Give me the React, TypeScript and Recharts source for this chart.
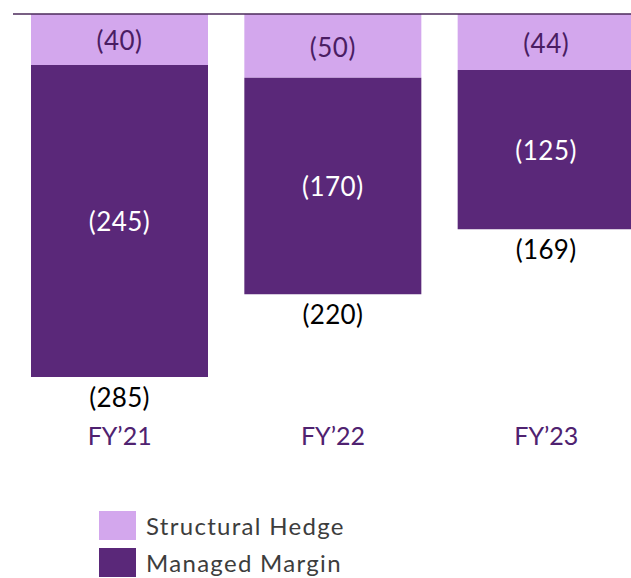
import React from 'react';
import { BarChart, Bar, XAxis, YAxis, ReferenceLine, LabelList, Legend } from 'recharts';

const categories = ["FY’21", "FY’22", "FY’23"];
const structuralHedge = [-40, -50, -44];
const managedMargin = [-245, -170, -125];
const totals = [-285, -220, -169];

const data = categories.map((c, i) => ({
  name: c,
  hedge: structuralHedge[i],
  managed: managedMargin[i],
  total: totals[i],
}));

const LIGHT = '#d3a7ed';
const DARK = '#5a2879';
const FONT = 'Lato, "Open Sans", sans-serif';

const fmt = (v: number) => `(${Math.abs(v)})`;

const norm = (p: any) => {
  const y = Number(p.y), h = Number(p.height);
  const top = Math.min(y, y + h);
  const bottom = Math.max(y, y + h);
  return { top, bottom, cx: Number(p.x) + Number(p.width) / 2 };
};

const HedgeLabel = (p: any) => {
  const { top, bottom, cx } = norm(p);
  return (
    <text x={cx} y={(top + bottom) / 2 + 1} textAnchor="middle" dominantBaseline="central"
      fill="#4a1d63" fontSize={26} letterSpacing={0.5} fontFamily={FONT}>{fmt(p.value)}</text>
  );
};

const ManagedLabel = (p: any) => {
  const { top, bottom, cx } = norm(p);
  return (
    <text x={cx} y={(top + bottom) / 2} textAnchor="middle" dominantBaseline="central"
      fill="#ffffff" fontSize={26} letterSpacing={0.5} fontFamily={FONT}>{fmt(p.value)}</text>
  );
};

const TotalLabel = (p: any) => {
  const { bottom, cx } = norm(p);
  return (
    <text x={cx} y={bottom + 20} textAnchor="middle" dominantBaseline="central"
      fill="#000000" fontSize={26} letterSpacing={0.3} fontFamily={FONT}>{fmt(p.value)}</text>
  );
};

const CatTick = (p: any) => (
  <text x={p.x} y={p.y + 58} textAnchor="middle" dominantBaseline="central"
    fill="#4f2270" fontSize={25} fontFamily={FONT}>{p.payload.value}</text>
);

const LegendContent = () => (
  <div style={{ fontFamily: FONT, fontSize: 24, letterSpacing: 1.3, color: '#3d3d3d' }}>
    {[{ label: 'Structural Hedge', color: LIGHT }, { label: 'Managed Margin', color: DARK }].map((it) => (
      <div key={it.label} style={{ display: 'flex', alignItems: 'center', height: 37 }}>
        <div style={{ width: 37, height: 29, background: it.color, marginRight: 10 }} />
        <span>{it.label}</span>
      </div>
    ))}
  </div>
);

export default function App() {
  return (
    <div style={{ position: 'absolute', left: 0, top: 0, width: 631, height: 578, overflow: 'hidden' }}>
      <BarChart width={660} height={578} data={data} barCategoryGap={18}
        margin={{ top: 14, right: 7, left: 13, bottom: 0 }}>
        <XAxis dataKey="name" orientation="bottom" axisLine={false} tickLine={false}
          tickSize={0} tickMargin={0} height={131} tick={<CatTick />} interval={0} />
        <YAxis hide domain={[-285, 0]} allowDataOverflow />
        <Bar dataKey="hedge" stackId="a" fill={LIGHT} isAnimationActive={false}>
          <LabelList dataKey="hedge" content={<HedgeLabel />} />
        </Bar>
        <Bar dataKey="managed" stackId="a" fill={DARK} isAnimationActive={false}>
          <LabelList dataKey="managed" content={<ManagedLabel />} />
          <LabelList dataKey="total" content={<TotalLabel />} />
        </Bar>
        <ReferenceLine y={0} stroke="#4b2a5a" strokeWidth={1.5} />
        <Legend verticalAlign="bottom" align="left" content={<LegendContent />}
          wrapperStyle={{ left: 99, top: 507, height: 70, width: 330 }} />
      </BarChart>
    </div>
  );
}
